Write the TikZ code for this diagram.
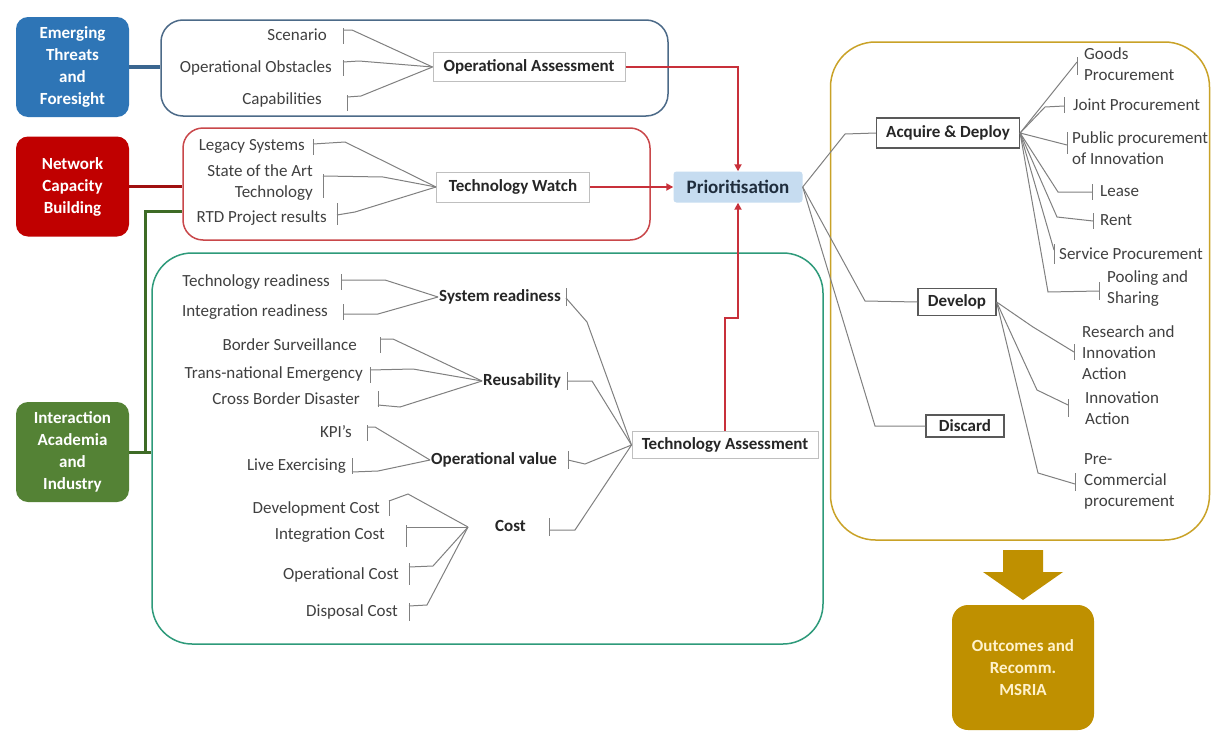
\documentclass[tikz,border=0pt]{standalone}
\usepackage{fontspec}
\setmainfont{Carlito}
\usetikzlibrary{arrows.meta}

\definecolor{srcblue}{HTML}{2E75B6}
\definecolor{srcred}{HTML}{C00000}
\definecolor{srcgreen}{HTML}{548235}
\definecolor{gold}{HTML}{BF9000}
\definecolor{goldline}{HTML}{C9A227}
\definecolor{grpblue}{HTML}{4C6A88}
\definecolor{grpred}{HTML}{C9474A}
\definecolor{grpteal}{HTML}{2E9A7A}
\definecolor{linkblue}{HTML}{3A6690}
\definecolor{linkred}{HTML}{A01010}
\definecolor{linkgreen}{HTML}{3E6B26}
\definecolor{feedred}{HTML}{C8303A}
\definecolor{leafgray}{HTML}{404040}
\definecolor{hubtext}{HTML}{262626}
\definecolor{hubline}{HTML}{BFBFBF}
\definecolor{decline}{HTML}{595959}
\definecolor{linkgray}{HTML}{808080}
\definecolor{prioblue}{HTML}{C6DCF0}
\definecolor{priotext}{HTML}{1F2D3D}
\definecolor{paleyellow}{HTML}{FFF2CC}

% short vertical bar marking the end of a branch
\newcommand\tk[2]{\draw[link] (#1) ++(0,-#2) -- ++(0,{2*#2});}

\begin{document}
\begin{tikzpicture}[x=1pt,y=-1pt,
  leaf/.style={font=\fontsize{17}{21}\selectfont, text=leafgray, inner sep=0pt},
  hub/.style={draw=hubline, line width=1pt, fill=white, text=hubtext,
    font=\fontsize{17}{21}\selectfont\bfseries, inner sep=2pt},
  mid/.style={font=\fontsize{17}{21}\selectfont\bfseries, text=hubtext, inner sep=1pt},
  dec/.style={draw=decline, line width=1.2pt, fill=white, text=hubtext,
    font=\fontsize{17}{21}\selectfont\bfseries, inner sep=2pt},
  src/.style={rounded corners=12pt, text=white, align=center,
    font=\fontsize{17}{22}\selectfont\bfseries,
    minimum width=113pt, minimum height=100pt},
  link/.style={draw=linkgray, line width=1pt},
  feed/.style={draw=feedred, line width=2pt, -{Triangle[length=7pt,width=7pt]}},
  thick link/.style={line width=3.5pt}
]
\useasboundingbox (0,0) rectangle (1211,731);
\fill[white] (0,0) rectangle (1211,731);

% ---------- group frames ----------
\node[draw=grpblue, line width=1.5pt, rounded corners=22pt,
  minimum width=507pt, minimum height=96pt] (gop) at (414.5,68) {};
\node[draw=grpred, line width=1.5pt, rounded corners=20pt,
  minimum width=467pt, minimum height=112pt] (grt) at (416.5,184) {};
\node[draw=grpteal, line width=1.5pt, rounded corners=40pt,
  minimum width=671pt, minimum height=391pt] (gta) at (487.5,448.5) {};
\node[draw=goldline, line width=1.5pt, rounded corners=45pt,
  minimum width=379pt, minimum height=498pt] (gac) at (1020,291) {};

% ---------- source boxes ----------
\node[src, fill=srcblue] (eth) at (72.5,67) {Emerging\\Threats\\and\\Foresight};
\node[src, fill=srcred] (ncb) at (72.5,186.5) {Network\\Capacity\\Building};
\node[src, fill=srcgreen] (iai) at (72.5,452) {Interaction\\Academia\\and\\Industry};

\draw[linkblue, thick link] (eth.east) -- (eth.east -| gop.west);
\draw[linkred, thick link] (ncb.east) -- (ncb.east -| grt.west);
\coordinate (gj) at (145,452);
\coordinate (gtop) at (145,211);
\draw[linkgreen, line width=3pt] (iai.east) -- (iai.east -| gta.west);
\draw[linkgreen, line width=3pt] (gj) -- (gtop) -- (gtop -| grt.west);

% ---------- central nodes ----------
\node[hub, minimum width=192pt, minimum height=29pt] (oa) at (529,67) {Operational Assessment};
\node[hub, minimum width=153pt, minimum height=30pt] (tw) at (513,187) {Technology Watch};
\node[hub, minimum width=186pt, minimum height=27pt] (ta) at (725,445) {Technology Assessment};
\node[fill=prioblue, rounded corners=3pt, text=priotext,
  font=\fontsize{19}{23}\selectfont\bfseries,
  minimum width=129pt, minimum height=31pt] (pr) at (738,187) {Prioritisation};

\draw[feed] (oa.east) -| (pr.north);
\draw[feed] (tw.east) -- (pr.west);
\coordinate (jog) at (725,318);
\draw[feed] (ta.north) -- (jog) -- (jog -| pr.south) -- (pr.south);

% ---------- operational assessment inputs ----------
\node[leaf, anchor=east] (sc) at (327,35) {Scenario};
\node[leaf, anchor=east] (oo) at (332,68) {Operational Obstacles};
\node[leaf, anchor=east] (cp) at (322,100) {Capabilities};
\coordinate (sct) at (343,30);
\coordinate (oot) at (343,62);
\coordinate (cpt) at (347,97);
\tk{343,36}{8} \tk{343,68}{8} \tk{347,103}{8}
\draw[link] (sct) -- ++(9,0) -- (oa.west);
\draw[link] (oot) -- ++(16,-1) -- (oa.west);
\draw[link] (cpt) -- ++(14,-1) -- (oa.west);

% ---------- technology watch inputs ----------
\node[leaf, anchor=east] (ls) at (305,146) {Legacy Systems};
\node[leaf, anchor=east, align=right] (sa) at (313,183) {State of the Art\\Technology};
\node[leaf, anchor=east] (rtd) at (327,218) {RTD Project results};
\coordinate (lst) at (313,144);
\coordinate (sat) at (323,176);
\coordinate (rtdt) at (337,215);
\tk{313,147}{8} \tk{323,186}{12} \tk{337,214}{11}
\draw[link] (lst) -- (345,142) -- (tw.west);
\draw[link] (sat) -- (383,177) -- (tw.west);
\draw[link] (rtdt) -- (355,212) -- (tw.west);

% ---------- technology assessment criteria ----------
\node[mid, anchor=west] (sr) at (438,297) {System readiness};
\node[mid, anchor=west] (ru) at (482,381) {Reusability};
\node[mid, anchor=west] (ov) at (430,460) {Operational value};
\node[mid, anchor=west] (cs) at (494,526) {Cost};
\coordinate (srt) at (566,298);
\coordinate (rut) at (567,381);
\coordinate (ovt) at (568,460);
\coordinate (cst) at (549,530);
\tk{566,297}{9} \tk{567,381}{9} \tk{568,460}{9} \tk{549,527}{9}
\draw[link] (srt) -- (587,322) -- (ta.west);
\draw[link] (rut) -- (592,381) -- (ta.west);
\draw[link] (ovt) -- (585,464) -- (ta.west);
\draw[link] (cst) -- (575,530) -- (ta.west);

% system readiness
\node[leaf, anchor=east] (tr) at (330,282) {Technology readiness};
\node[leaf, anchor=east] (ir) at (328,312) {Integration readiness};
\coordinate (trt) at (341,280);
\coordinate (irt) at (343,314);
\tk{341,282}{8} \tk{343,312}{8}
\draw[link] (trt) -- (385,280) -- (sr.west);
\draw[link] (irt) -- (378,314) -- (sr.west);

% reusability
\node[leaf, anchor=east] (bs) at (357,345) {Border Surveillance};
\node[leaf, anchor=east] (tn) at (363,374) {Trans-national Emergency};
\node[leaf, anchor=east] (cb) at (360,399) {Cross Border Disaster};
\coordinate (bst) at (380,339);
\coordinate (tnt) at (370,370);
\coordinate (cbt) at (378,405);
\tk{380,345}{8} \tk{370,375}{8} \tk{378,399}{8}
\draw[link] (bst) -- (393,339) -- (ru.west);
\draw[link] (tnt) -- (413,369) -- (ru.west);
\draw[link] (cbt) -- (400,407) -- (ru.west);

% operational value
\node[leaf, anchor=east] (kp) at (352,432) {KPI's};
\node[leaf, anchor=east] (lx) at (346,466) {Live Exercising};
\coordinate (kpt) at (367,427);
\coordinate (lxt) at (352,472);
\tk{367,433}{8} \tk{352,466}{8}
\draw[link] (kpt) -- (375,427) -- (ov.west);
\draw[link] (lxt) -- (378,471) -- (ov.west);

% cost
\coordinate (cj) at (468,527);
\node[leaf, anchor=east] (dvc) at (380,509) {Development Cost};
\node[leaf, anchor=east] (inc) at (385,535) {Integration Cost};
\node[leaf, anchor=east] (opc) at (399,575) {Operational Cost};
\node[leaf, anchor=east] (dpc) at (398,612) {Disposal Cost};
\coordinate (dvct) at (389,501);
\coordinate (inct) at (406,527);
\coordinate (opct) at (409,567);
\coordinate (dpct) at (409,606);
\tk{389,508}{8} \tk{406,536}{11} \tk{409,574}{11} \tk{409,612}{9}
\draw[link] (dvct) -- (408,494) -- (cj);
\draw[link] (inct) -- (cj);
\draw[link] (opct) -- (433,566) -- (cj);
\draw[link] (dpct) -- (427,605) -- (cj);

% ---------- decisions ----------
\node[dec, minimum width=143pt, minimum height=30pt] (ad) at (948,133) {Acquire \& Deploy};
\node[dec, minimum width=78pt, minimum height=27pt] (dv) at (957,302) {Develop};
\node[dec, minimum width=78pt, minimum height=22pt] (dc) at (965,426) {Discard};
\draw[link] (pr.east) -- (845,134) -- (ad.west);
\draw[link] (pr.east) -- (865,301) -- (dv.west);
\draw[link] (pr.east) -- (875,426) -- (dc.west);

% acquire & deploy options
\node[leaf, anchor=west, align=left] (gp) at (1084,64) {Goods\\Procurement};
\node[leaf, anchor=west] (jp) at (1073,105) {Joint Procurement};
\node[leaf, anchor=west, align=left] (pp) at (1072,148) {Public procurement\\of Innovation};
\node[leaf, anchor=west] (ls2) at (1100,191) {Lease};
\node[leaf, anchor=west] (rt) at (1100,220) {Rent};
\node[leaf, anchor=west] (sp) at (1059,254) {Service Procurement};
\node[leaf, anchor=west, align=left] (ps) at (1107,289) {Pooling and\\Sharing};
\coordinate (gpt) at (1077,62);
\coordinate (jpt) at (1064,106);
\coordinate (ppt) at (1067,145);
\coordinate (ls2t) at (1092,192);
\coordinate (rtt) at (1093,221);
\coordinate (spt) at (1054,250);
\coordinate (pst) at (1099,291);
\tk{1077,66}{9} \tk{1064,105}{8} \tk{1067,143}{11} \tk{1092,192}{8}
\tk{1093,221}{8} \tk{1054,254}{10} \tk{1099,291}{9}
\draw[link] (gpt) -- (ad.east);
\draw[link] (jpt) -- (1045,107) -- (ad.east);
\draw[link] (ppt) -- (ad.east);
\draw[link] (ls2t) -- (1058,192) -- (ad.east);
\draw[link] (rtt) -- (1057,217) -- (ad.east);
\draw[link] (spt) -- (ad.east);
\draw[link] (pst) -- (1048,292) -- (ad.east);

% develop options
\node[leaf, anchor=west, align=left] (ria) at (1082,353) {Research and\\Innovation\\Action};
\node[leaf, anchor=west, align=left] (ia) at (1085,408) {Innovation\\Action};
\node[leaf, anchor=west, align=left] (pc) at (1084,481) {Pre-\\Commercial\\procurement};
\coordinate (riat) at (1074,352);
\coordinate (iat) at (1068,405);
\coordinate (pct) at (1075,484);
\tk{1074,352}{8} \tk{1068,408}{9} \tk{1075,482}{9}
\draw[link] (riat) -- (1033,327) -- (dv.east);
\draw[link] (iat) -- (1037,390) -- (dv.east);
\draw[link] (pct) -- (1038,473) -- (dv.east);

% ---------- outcome ----------
\fill[gold] (1003,550) -- (1043,550) -- (1043,572) -- (1063,572) -- (1023,600)
  -- (983,572) -- (1003,572) -- cycle;
\node[fill=gold, rounded corners=16pt, text=paleyellow, align=center,
  font=\fontsize{17}{22}\selectfont\bfseries,
  minimum width=142pt, minimum height=125pt] (out) at (1023,667.5)
  {Outcomes and\\Recomm.\\MSRIA};

\end{tikzpicture}
\end{document}
